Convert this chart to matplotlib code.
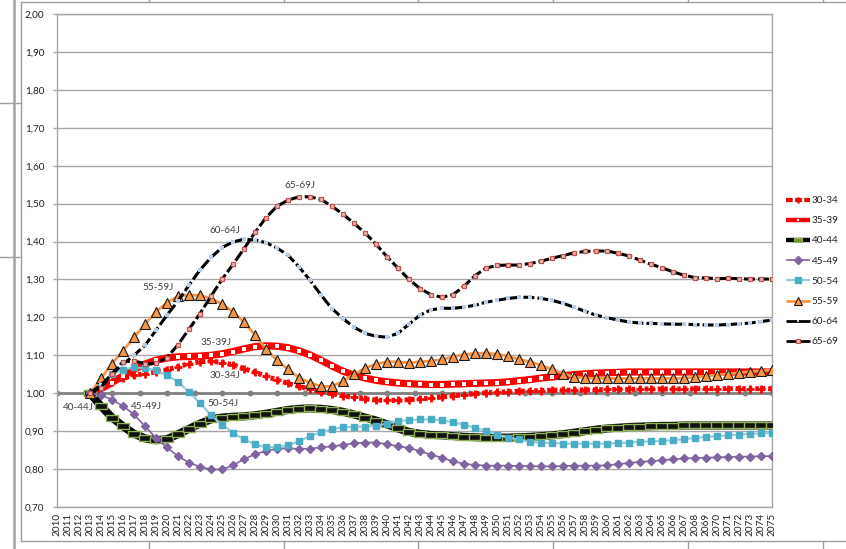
import matplotlib
matplotlib.use("Agg")
import matplotlib.pyplot as plt
from matplotlib.lines import Line2D
from matplotlib.path import Path

plt.rcParams['font.family'] = ['Lato', 'DejaVu Sans']

# ---------------- data ----------------
years = list(range(2013, 2076))
tick_years = list(range(2010, 2076))

s30_34 = [1.000, 1.015, 1.030, 1.040, 1.047, 1.052, 1.056, 1.062, 1.070, 1.078,
          1.083, 1.085, 1.081, 1.075, 1.065, 1.055, 1.045, 1.035, 1.026, 1.018,
          1.011, 1.004, 0.999, 0.993, 0.989, 0.985, 0.982, 0.981, 0.981, 0.983,
          0.985, 0.987, 0.990, 0.993, 0.996, 0.999, 1.001, 1.002, 1.004, 1.005,
          1.006, 1.007, 1.008, 1.008, 1.008, 1.009, 1.009, 1.010, 1.010, 1.010,
          1.011, 1.011, 1.011, 1.011, 1.011, 1.012, 1.012, 1.012, 1.012, 1.012,
          1.012, 1.012, 1.012]
s35_39 = [1.000, 1.012, 1.028, 1.046, 1.063, 1.077, 1.087, 1.093, 1.096, 1.097,
          1.098, 1.100, 1.104, 1.110, 1.117, 1.123, 1.125, 1.124, 1.120, 1.112,
          1.101, 1.087, 1.072, 1.058, 1.048, 1.040, 1.034, 1.030, 1.027, 1.025,
          1.024, 1.023, 1.023, 1.024, 1.025, 1.026, 1.027, 1.028, 1.030, 1.033,
          1.036, 1.040, 1.043, 1.046, 1.049, 1.051, 1.053, 1.054, 1.055, 1.056,
          1.056, 1.056, 1.056, 1.056, 1.056, 1.056, 1.056, 1.056, 1.056, 1.056,
          1.056, 1.056, 1.056]
s40_44 = [1.000, 0.966, 0.936, 0.913, 0.893, 0.881, 0.876, 0.879, 0.892, 0.906,
          0.920, 0.931, 0.936, 0.938, 0.939, 0.942, 0.946, 0.951, 0.956, 0.959,
          0.960, 0.959, 0.956, 0.951, 0.944, 0.936, 0.928, 0.918, 0.907, 0.898,
          0.893, 0.890, 0.889, 0.887, 0.885, 0.884, 0.883, 0.883, 0.883, 0.884,
          0.885, 0.887, 0.889, 0.892, 0.896, 0.900, 0.904, 0.907, 0.909, 0.911,
          0.912, 0.913, 0.914, 0.914, 0.915, 0.915, 0.915, 0.915, 0.915, 0.915,
          0.915, 0.915, 0.915]
s45_49 = [1.000, 0.995, 0.983, 0.966, 0.944, 0.913, 0.882, 0.857, 0.834, 0.817,
          0.806, 0.799, 0.799, 0.810, 0.826, 0.839, 0.848, 0.854, 0.855, 0.853,
          0.854, 0.857, 0.860, 0.864, 0.868, 0.870, 0.870, 0.866, 0.860, 0.856,
          0.847, 0.838, 0.830, 0.820, 0.814, 0.811, 0.809, 0.809, 0.809, 0.808,
          0.808, 0.807, 0.807, 0.808, 0.809, 0.809, 0.809, 0.810, 0.813, 0.816,
          0.819, 0.821, 0.823, 0.826, 0.828, 0.829, 0.830, 0.831, 0.832, 0.833,
          0.833, 0.834, 0.834]
s50_54 = [1.000, 1.026, 1.050, 1.062, 1.068, 1.066, 1.061, 1.047, 1.030, 1.003,
          0.974, 0.942, 0.917, 0.896, 0.878, 0.865, 0.858, 0.858, 0.863, 0.873,
          0.887, 0.897, 0.905, 0.910, 0.912, 0.912, 0.914, 0.920, 0.926, 0.929,
          0.931, 0.931, 0.929, 0.923, 0.917, 0.909, 0.901, 0.891, 0.883, 0.878,
          0.872, 0.869, 0.869, 0.867, 0.867, 0.867, 0.867, 0.867, 0.869, 0.870,
          0.872, 0.873, 0.874, 0.876, 0.879, 0.882, 0.885, 0.887, 0.889, 0.891,
          0.893, 0.894, 0.895]
s55_59 = [1.000, 1.039, 1.078, 1.112, 1.147, 1.182, 1.215, 1.239, 1.256, 1.259,
          1.258, 1.250, 1.235, 1.215, 1.187, 1.154, 1.116, 1.087, 1.063, 1.041,
          1.028, 1.018, 1.018, 1.032, 1.050, 1.066, 1.077, 1.083, 1.083, 1.080,
          1.083, 1.085, 1.089, 1.096, 1.102, 1.105, 1.106, 1.103, 1.098, 1.089,
          1.083, 1.074, 1.063, 1.052, 1.043, 1.040, 1.039, 1.039, 1.039, 1.039,
          1.039, 1.039, 1.039, 1.039, 1.040, 1.042, 1.045, 1.048, 1.051, 1.054,
          1.057, 1.059, 1.061]
s60_64 = [1.000, 1.022, 1.050, 1.077, 1.100, 1.126, 1.166, 1.206, 1.243, 1.285,
          1.325, 1.358, 1.384, 1.399, 1.406, 1.404, 1.397, 1.383, 1.364, 1.333,
          1.298, 1.259, 1.223, 1.197, 1.174, 1.158, 1.150, 1.148, 1.158, 1.182,
          1.206, 1.220, 1.224, 1.224, 1.227, 1.232, 1.240, 1.245, 1.250, 1.253,
          1.253, 1.250, 1.245, 1.237, 1.227, 1.216, 1.206, 1.199, 1.193, 1.188,
          1.185, 1.184, 1.183, 1.182, 1.182, 1.181, 1.180, 1.180, 1.181, 1.183,
          1.185, 1.189, 1.193]
s65_69 = [1.000, 1.015, 1.052, 1.083, 1.085, 1.078, 1.079, 1.094, 1.128, 1.169,
          1.210, 1.256, 1.300, 1.340, 1.381, 1.424, 1.463, 1.493, 1.509, 1.518,
          1.518, 1.511, 1.493, 1.472, 1.448, 1.423, 1.393, 1.360, 1.330, 1.300,
          1.276, 1.260, 1.253, 1.260, 1.282, 1.310, 1.330, 1.337, 1.338, 1.338,
          1.342, 1.348, 1.356, 1.363, 1.370, 1.374, 1.375, 1.375, 1.369, 1.362,
          1.351, 1.340, 1.331, 1.320, 1.311, 1.305, 1.304, 1.302, 1.303, 1.302,
          1.301, 1.301, 1.301]

base_years = [2010, 2012.5, 2015, 2017.5, 2020, 2022.5, 2025, 2027.5, 2030,
              2032.5, 2035, 2037.5, 2040, 2042.5, 2045, 2047.5, 2050, 2052.5,
              2055, 2057.5, 2060, 2062.5, 2065, 2067.5, 2070, 2072.5, 2075]
base_values = [1.00] * len(base_years)

series_names = ["30-34", "35-39", "40-44", "45-49", "50-54", "55-59", "60-64", "65-69"]

label_texts = ["65-69J", "60-64J", "55-59J", "35-39J", "30-34J", "50-54J", "45-49J", "40-44J"]
label_x = [2032.1, 2025.3, 2019.2, 2024.5, 2025.3, 2025.1, 2018.1, 2011.9]
label_y = [1.547, 1.430, 1.279, 1.133, 1.046, 0.974, 0.964, 0.962]

y_ticks = [0.70, 0.80, 0.90, 1.00, 1.10, 1.20, 1.30, 1.40, 1.50, 1.60, 1.70, 1.80, 1.90, 2.00]

# ---------------- figure ----------------
W, H = 846, 549
fig = plt.figure(figsize=(W / 100, H / 100), dpi=100)
ax = fig.add_axes([57 / W, 1 - 507 / H, (772 - 57) / W, (507 - 14) / H])

grid_c = '#a6a6a6'

# baseline
ax.plot(base_years, base_values, color='#808080', lw=2.0, marker='o', ms=3.2,
        mfc='#808080', mec='#808080', zorder=1.5)

rect = Path([(-1, -0.5), (1, -0.5), (1, 0.5), (-1, 0.5), (-1, -0.5)],
            [Path.MOVETO, Path.LINETO, Path.LINETO, Path.LINETO, Path.CLOSEPOLY])

styles = [
    dict(color='#ff0000', lw=3.6, dashes=(0.7, 0.6), marker='+', ms=5.5, mew=2.0,
         mec='#ff0000'),
    dict(color='#ff0000', lw=5.2, marker='s', ms=2.3, mfc='white', mec='white', mew=0),
    dict(color='#000000', lw=5.8, marker=rect, ms=8.0, mfc='#111111', mec='#8db255', mew=1.0),
    dict(color='#8064a2', lw=1.2, marker='D', ms=3.8, mfc='#8064a2', mec='#8064a2'),
    dict(color='#93cddd', lw=1.5, marker='s', ms=4.3, mfc='#4bacc6', mec='#4bacc6'),
    dict(color='#f79646', lw=2.0, marker='^', ms=7.0, mfc='#f79646', mec='#1a1a1a', mew=0.8),
    dict(color='#000000', lw=2.2, dashes=(3.6, 1.0), marker='s', ms=2.2, mfc='#b9cde5',
         mec='#b9cde5', mew=0),
    dict(color='#000000', lw=2.2, dashes=(3.6, 1.0), marker='s', ms=3.2, mfc='#e6b9b8',
         mec='#c0504d', mew=0.9),
]
data = [s30_34, s35_39, s40_44, s45_49, s50_54, s55_59, s60_64, s65_69]

for i, (name, vals, st) in enumerate(zip(series_names, data, styles)):
    ax.plot(years, vals, label=name, zorder=2 + i, solid_capstyle='butt',
            dash_capstyle='butt', **st)

for t, x, y in zip(label_texts, label_x, label_y):
    ax.text(x, y, t, ha='center', va='center', fontsize=7.2, color='#404040', zorder=20)

ax.set_xlim(2010, 2075)
ax.set_ylim(0.70, 2.00)
ax.set_yticks(y_ticks)
ax.set_yticklabels([f"{v:.2f}".replace('.', ',') for v in y_ticks])
ax.set_xticks(tick_years)
ax.set_xticklabels([str(y) for y in tick_years], rotation=90)
ax.set_xticks(list(range(2010, 2076, 5)), minor=True)
ax.tick_params(axis='x', which='both', length=0, pad=4, labelsize=7.2, colors='#222222')
ax.tick_params(axis='y', which='major', length=3, width=1, color=grid_c, pad=6,
               labelsize=7.2, labelcolor='#222222')
ax.grid(True, axis='y', which='major', color=grid_c, lw=1.0)
ax.grid(True, axis='x', which='minor', color=grid_c, lw=1.0)
ax.grid(False, axis='x', which='major')
for sp in ax.spines.values():
    sp.set_color(grid_c)
    sp.set_linewidth(1.0)
ax.set_axisbelow(True)

# legend proxies (Excel draws legend keys smaller)
leg_styles = [
    dict(color='#ff0000', lw=3.0, dashes=(1.6, 0.6), marker='+', ms=5, mew=1.8, mec='#ff0000'),
    dict(color='#ff0000', lw=3.2, marker='s', ms=2.0, mfc='white', mec='white', mew=0),
    dict(color='#000000', lw=3.2, marker=rect, ms=6.0, mfc='#76923c', mec='#8db255', mew=0.8),
    dict(color='#8064a2', lw=1.2, marker='D', ms=3.8, mfc='#8064a2', mec='#8064a2'),
    dict(color='#93cddd', lw=1.5, marker='s', ms=4.3, mfc='#4bacc6', mec='#4bacc6'),
    dict(color='#f79646', lw=2.0, marker='^', ms=6.0, mfc='#f79646', mec='#1a1a1a', mew=0.8),
    dict(color='#000000', lw=2.0, marker='s', ms=2.0, mfc='#b9cde5', mec='#b9cde5', mew=0),
    dict(color='#000000', lw=2.0, marker='s', ms=2.8, mfc='#e6b9b8', mec='#c0504d', mew=0.8),
]
handles = [Line2D([], [], solid_capstyle='butt', dash_capstyle='butt', **st)
           for st in leg_styles]

leg = fig.legend(handles=handles, labels=series_names, loc='upper left',
                 bbox_to_anchor=(786 / W, 1 - 196 / H), frameon=False,
                 fontsize=7.2, handlelength=2.4, handletextpad=0.15,
                 labelspacing=1.12, numpoints=1, borderaxespad=0, borderpad=0)
for t in leg.get_texts():
    t.set_color('#222222')

# spreadsheet / chart-area decorations (figure pixel coords)
def fl(x0, y0, x1, y1, lw=1.0, c='#a0a0a0'):
    fig.add_artist(Line2D([x0 / W, x1 / W], [1 - y0 / H, 1 - y1 / H],
                          transform=fig.transFigure, color=c, lw=lw))

fl(13.5, 0, 13.5, H, lw=1.8, c='#a0a0a0')
fl(21, 2, 21, 541, lw=1.0)
fl(21, 2, W, 2, lw=1.0)
fl(21, 541, W, 541, lw=1.0)
fl(0, 103, 21, 103, lw=1.0)
fl(0, 257, 21, 257, lw=1.0)
for xc in [149, 284, 418, 553, 688, 823]:
    fl(xc, 0, xc, 2, lw=1.0)
    fl(xc, 541, xc, H, lw=1.0)

fig.savefig('out.png', dpi=100)
